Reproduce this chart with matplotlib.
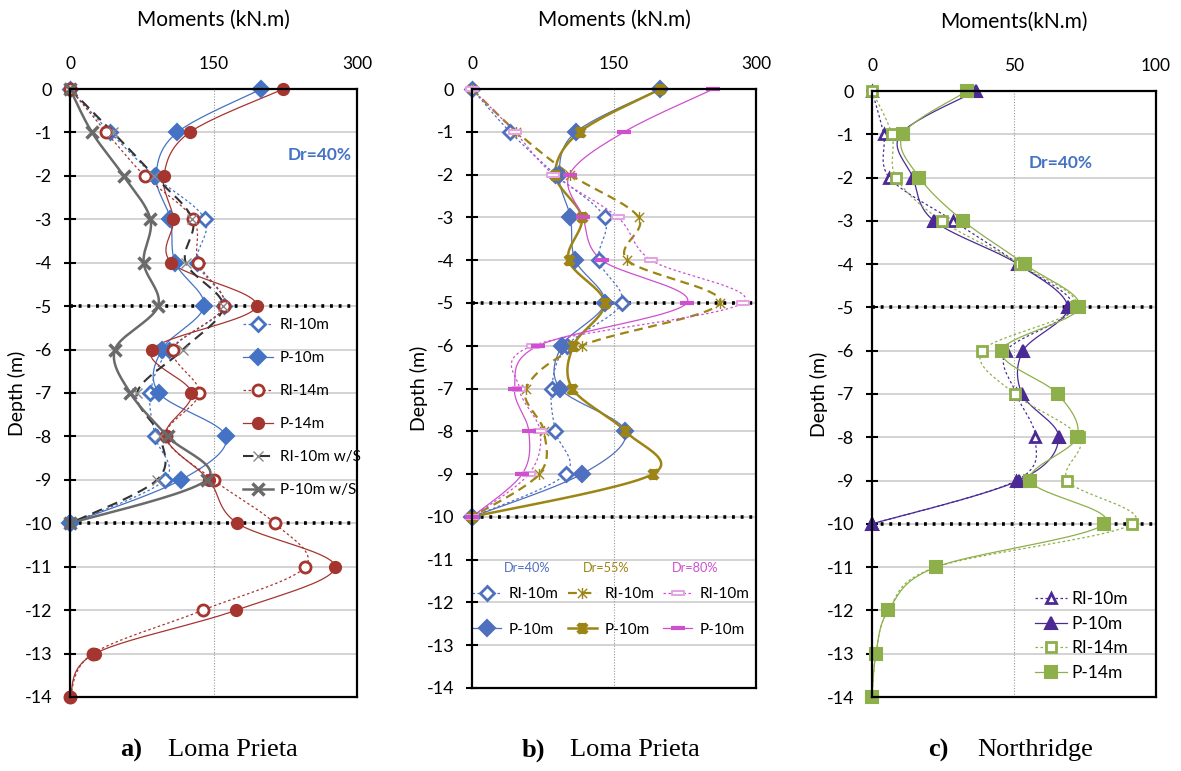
import numpy as np
import matplotlib
matplotlib.use("Agg")
import matplotlib.pyplot as plt
from matplotlib.path import Path

# ---------------- data ----------------
depth10 = [0, -1, -2, -3, -4, -5, -6, -7, -8, -9, -10]
depth14 = [0, -1, -2, -3, -4, -5, -6, -7, -8, -9, -10, -11, -12, -13, -14]

# panel a (Loma Prieta, Dr=40%)
a_RI10 = [0, 42, 88, 141, 133, 161, 104, 84, 89, 99, 0]
a_P10 = [200, 112, 90, 105, 110, 140, 96, 93, 163, 116, 0]
a_RI14 = [0, 38, 78, 129, 134, 161, 108, 135, 100, 150, 214, 246, 139, 24, 0]
a_P14 = [223, 125, 98, 108, 106, 195, 86, 127, 100, 145, 175, 277, 174, 26, 0]
a_RI10S = [0, 45, 88, 128, 121, 160, 118, 70, 94, 91, 0]
a_P10S = [0, 23, 56, 84, 77, 92, 47, 63, 102, 143, 0]

# panel b (Loma Prieta, various Dr)
b_RI40 = [0, 40, 88, 140, 134, 158, 100, 84, 88, 99, 0]
b_P40 = [199, 110, 92, 104, 109, 140, 95, 93, 162, 116, 0]
b_RI55 = [0, 47, 104, 176, 164, 262, 116, 57, 76, 71, 0]
b_P55 = [199, 114, 88, 116, 102, 140, 107, 106, 162, 191, 0]
b_RI80 = [0, 45, 86, 154, 189, 286, 64, 50, 72, 60, 0]
b_P80 = [255, 161, 103, 117, 137, 227, 70, 45, 60, 53, 0]

# panel c (Northridge, Dr=40%)
c_RI10 = [0, 4.1, 6.1, 28.6, 51.7, 70.7, 47.3, 50.8, 57.5, 50.8, 0]
c_P10 = [36.6, 10, 14.4, 21.8, 51.4, 68.9, 53.2, 52.8, 65.7, 51.6, 0]
c_RI14 = [0, 7, 8.5, 24.5, 52, 71.8, 38.8, 50.2, 73, 68.8, 91.7, 22.5, 5.8, 1.4, 0]
c_P14 = [33.5, 10.9, 16.7, 32.1, 53.7, 73, 45.6, 65.4, 72.2, 55.7, 81.8, 22.5, 5.8, 1.4, 0]

ytick_vals = list(range(0, -15, -1))

FONT = "Lato"
SERIF = "Liberation Serif"
plt.rcParams["font.family"] = [FONT, "DejaVu Sans"]

# ------------- helpers ---------------
def smooth(x, y, n=24):
    """Excel-like smoothed line (Bezier / Catmull-Rom) through the points."""
    P = np.column_stack([x, y]).astype(float)
    P = np.vstack([P[0], P, P[-1]])
    out = []
    t = np.linspace(0, 1, n)[:, None]
    for i in range(1, len(P) - 2):
        p0, p1, p2, p3 = P[i - 1], P[i], P[i + 1], P[i + 2]
        c1 = p1 + (p2 - p0) / 6.0
        c2 = p2 - (p3 - p1) / 6.0
        seg = ((1 - t) ** 3) * p1 + 3 * ((1 - t) ** 2) * t * c1 + 3 * (1 - t) * t ** 2 * c2 + t ** 3 * p2
        out.append(seg if i == 1 else seg[1:])
    out = np.vstack(out)
    return out[:, 0], out[:, 1]


def series(ax, x, y, color, ls, lw, marker, ms, mfc, mec=None, mew=1.5, label=None, z=3):
    sx, sy = smooth(x, y)
    ax.plot(sx, sy, color=color, ls=ls, lw=lw, zorder=z)
    ax.plot(x, y, ls="none", marker=marker, ms=ms, mfc=mfc,
            mec=mec if mec else color, mew=mew, zorder=z + 1, clip_on=False)
    h, = ax.plot([], [], color=color, ls=ls, lw=lw, marker=marker, ms=ms,
                 mfc=mfc, mec=mec if mec else color, mew=mew, label=label)
    return h


star = Path([(-1, -1), (1, 1), (-1, 1), (1, -1), (0, -1.2), (0, 1.2)],
            [Path.MOVETO, Path.LINETO, Path.MOVETO, Path.LINETO, Path.MOVETO, Path.LINETO])
flatrect = Path([(-1, -0.35), (1, -0.35), (1, 0.35), (-1, 0.35), (-1, -0.35)],
                [Path.MOVETO, Path.LINETO, Path.LINETO, Path.LINETO, Path.CLOSEPOLY])


def setup(ax, xmax, xmid, ymin, title):
    ax.set_xlim(0, xmax)
    ax.set_ylim(ymin, 0)
    ax.xaxis.tick_top()
    ax.xaxis.set_label_position("top")
    ax.set_xticks([0, xmid, xmax])
    ax.set_xticklabels([f"{v:g}" for v in [0, xmid, xmax]])
    ax.tick_params(axis="x", length=0, pad=12.5, labelsize=12.5)
    yt = [v for v in ytick_vals if v >= ymin]
    ax.set_yticks(yt)
    ax.set_yticklabels([str(v) for v in yt])
    ax.tick_params(axis="y", direction="inout", length=8.6, width=1.5, pad=8.5, labelsize=13)
    ax.set_xlabel(title, fontsize=15, labelpad=21.5)
    ax.set_ylabel("Depth (m)", fontsize=14, labelpad=-1)
    for s in ax.spines.values():
        s.set_linewidth(1.6)
        s.set_color("black")
        s.set_zorder(10)
    for v in yt[1:]:
        ax.axhline(v, color="#c8c8c8", lw=1.1, zorder=1)
    ax.axvline(xmid, color="#9a9a9a", lw=0.8, ls=(0, (1, 1.5)), zorder=1)
    for v in (-5, -10):
        ax.plot([0, xmax], [v, v], color="black", lw=2.6, ls=(0, (0.8, 1.6)),
                zorder=2, clip_on=False)


W, H = 1181, 771
fig = plt.figure(figsize=(W / 100, H / 100), dpi=100)
fig.patch.set_facecolor("white")

def axbox(l, r, t, b):
    return fig.add_axes([l / W, 1 - b / H, (r - l) / W, (b - t) / H])

# ---------------- panel a ----------------
axa = axbox(70, 357, 89, 697)
setup(axa, 300, 150, -14, "Moments (kN.m)")
BLUE = "#4472C4"
RED = "#A5352F"
GRAY = "#6a6a6a"
ha = []
ha.append(series(axa, a_RI10, depth10, BLUE, (0, (2, 2)), 0.9, "D", 7.5, "white", mew=2, label="RI-10m"))
ha.append(series(axa, a_P10, depth10, BLUE, "-", 0.9, "D", 8, BLUE, label="P-10m"))
ha.append(series(axa, a_RI14, depth14, RED, (0, (2, 2)), 0.9, "o", 8, "white", mew=2, label="RI-14m"))
ha.append(series(axa, a_P14, depth14, RED, "-", 0.9, "o", 8, RED, label="P-14m"))
ha.append(series(axa, a_RI10S, depth10, "#333333", (0, (5, 3)), 1.5, "x", 7, "none", mec="#888888", mew=1.0, label="RI-10m w/S"))
ha.append(series(axa, a_P10S, depth10, GRAY, "-", 1.8, "x", 9, "none", mec=GRAY, mew=2.5, label="P-10m w/S"))
axa.legend(handles=ha, loc="upper left", bbox_to_anchor=((243 - 70) / 287, (697 - 318) / 608),
           frameon=False, fontsize=11, labelspacing=1.25, handlelength=1.96, handletextpad=0.46,
           borderaxespad=0, borderpad=0)
axa.text(0.87, (697 - 155) / 608, "Dr=40%", transform=axa.transAxes, color=BLUE,
         fontsize=12.5, fontweight="bold", ha="center", va="center")

# ---------------- panel b ----------------
axb = axbox(472, 756, 89, 688)
setup(axb, 300, 150, -14, "Moments (kN.m)")
B40 = "#4F6FBF"
B55 = "#9C8514"
B80 = "#CF4FCF"
B80L = "#E4A3E4"
h1 = series(axb, b_RI40, depth10, B40, (0, (2, 2)), 0.9, "D", 7.5, "white", mew=2, label="RI-10m")
h2 = series(axb, b_P40, depth10, B40, "-", 0.9, "D", 8, B40, label="P-10m")
h3 = series(axb, b_RI55, depth10, B55, (0, (4, 2.5)), 1.6, star, 8, "none", mew=1.0, label="RI-10m")
h4 = series(axb, b_P55, depth10, B55, "-", 1.8, star, 8, "none", mew=3.0, label="P-10m")
h5 = series(axb, b_RI80, depth10, B80, (0, (2, 2)), 0.9, flatrect, 8, "white", mec=B80L, mew=1.5, label="RI-10m")
h6 = series(axb, b_P80, depth10, B80, "-", 0.9, "_", 10, B80, mew=3, label="P-10m")
axb.legend(handles=[h1, h2, h3, h4, h5, h6], ncol=3, loc="upper left",
           bbox_to_anchor=(0, (688 - 587) / 599), frameon=False, fontsize=11,
           labelspacing=1.42, handlelength=1.9, handletextpad=0.5, columnspacing=0.6,
           borderaxespad=0, borderpad=0)
for xx, txt, col in [(527.5, "Dr=40%", B40), (606, "Dr=55%", B55), (695, "Dr=80%", B80)]:
    axb.text((xx - 472) / 284, (688 - 568) / 599, txt, transform=axb.transAxes, color=col,
             fontsize=9.2, ha="center", va="center")

# ---------------- panel c ----------------
axc = axbox(872, 1156, 91, 697)
setup(axc, 100, 50, -14, "Moments(kN.m)")
PUR = "#4B2A96"
GRN = "#8DB04A"
hc = []
hc.append(series(axc, c_RI10, depth10, PUR, (0, (2, 2)), 0.9, "^", 7.5, "white", mew=2, label="RI-10m"))
hc.append(series(axc, c_P10, depth10, PUR, "-", 0.9, "^", 8, PUR, label="P-10m"))
hc.append(series(axc, c_RI14, depth14, GRN, (0, (2, 2)), 0.9, "s", 7.5, "white", mew=2, label="RI-14m"))
hc.append(series(axc, c_P14, depth14, GRN, "-", 0.9, "s", 8, GRN, label="P-14m"))
axc.legend(handles=hc, loc="upper left", bbox_to_anchor=((1035 - 872) / 284, (697 - 591) / 606),
           frameon=False, fontsize=12.5, labelspacing=0.5, handlelength=1.84, handletextpad=0.25,
           borderaxespad=0, borderpad=0)
axc.text((1061 - 872) / 284, (697 - 163) / 606, "Dr=40%", transform=axc.transAxes, color=BLUE,
         fontsize=12.5, fontweight="bold", ha="center", va="center")

# ---------------- captions ----------------
for xl, xt, lab, txt in [(120, 168, "a)", "Loma Prieta"), (522, 570, "b)", "Loma Prieta"),
                         (928, 977, "c)", "Northridge")]:
    fig.text(xl / W, 1 - 750 / H, lab, fontsize=19, fontweight="bold", family=SERIF,
             ha="left", va="center")
    fig.text(xt / W, 1 - 750 / H, txt, fontsize=19, family=SERIF, ha="left", va="center")

fig.savefig("out.png", dpi=100, facecolor="white")
